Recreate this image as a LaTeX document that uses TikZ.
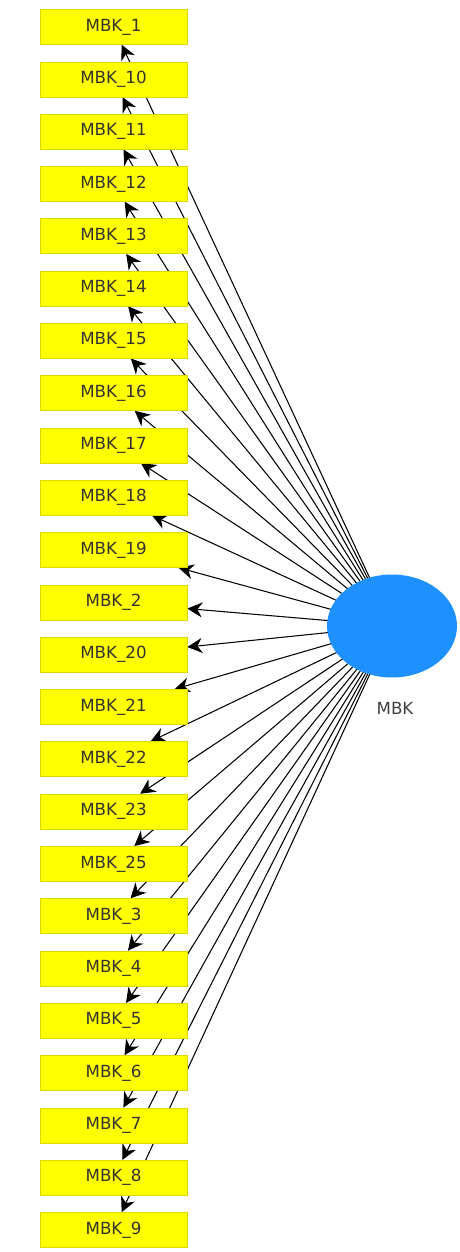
\documentclass[tikz,border=0pt]{standalone}
\usepackage{fontspec}
\setmainfont{DejaVu Sans}
\usetikzlibrary{arrows.meta, backgrounds, shapes.geometric}

\definecolor{itemyellow}{RGB}{255,255,0}
\definecolor{latentblue}{RGB}{30,144,255}

\begin{document}
\begin{tikzpicture}[
box/.style={rectangle, fill=itemyellow, draw=itemyellow!85!black, line width=0.3pt, minimum width=2.94cm, minimum height=0.7cm, font=\fontsize{9.5}{11}\selectfont, text=black!80},
latent/.style={ellipse, fill=latentblue, minimum width=2.6cm, minimum height=2.06cm, inner sep=0pt},
line/.style={-{Stealth[length=3mm, width=3mm]}, line width=0.6pt, black}
]
\useasboundingbox (0,0) rectangle (9.18,-25.04);

% latent construct
\node[latent] (mbk) at (7.84,-12.52) {};
\node[font=\fontsize{9.5}{11}\selectfont, text=black!75] (mbklabel) at (7.9,-14.16) {MBK};

% indicator boxes
\foreach \lab [count=\i] in {1,10,11,12,13,14,15,16,17,18,19,2,20,21,22,23,25,3,4,5,6,7,8,9}
  \node[box] (b\i) at (2.27,{-0.54-(\i-1)*1.046}) {MBK\_\lab};

% loadings, kept behind the boxes
\begin{pgfonlayer}{background}
\foreach \i in {1,...,24}
  \draw[line] (mbk.center) -- (b\i);
\end{pgfonlayer}
\end{tikzpicture}
\end{document}
